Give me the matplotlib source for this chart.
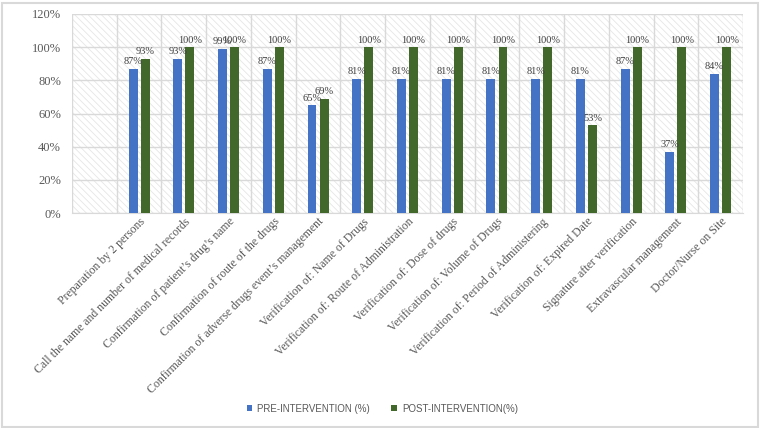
import numpy as np
import matplotlib.pyplot as plt
from matplotlib.patches import Rectangle

# categories (first slot on the axis is left empty in the original)
categories = [
    "Preparation by 2 persons",
    "Call the name and number of medical records",
    "Confirmation of patient\u2019s drug\u2019s name",
    "Confirmation of route of the drugs",
    "Confirmation of adverse drugs event\u2019s management",
    "Verification of: Name of Drugs",
    "Verification of: Route of Administration",
    "Verification of: Dose of drugs",
    "Verification of: Volume of Drugs",
    "Verification of: Period of Administering",
    "Verification of: Expired Date",
    "Signature after verification",
    "Extravascular management",
    "Doctor/Nurse on Site",
]
pre_values = [87, 93, 99, 87, 65, 81, 81, 81, 81, 81, 81, 87, 37, 84]
post_values = [93, 100, 100, 100, 69, 100, 100, 100, 100, 100, 53, 100, 100, 100]
y_ticks = [0, 20, 40, 60, 80, 100, 120]

blue = '#4472C4'
green = '#43682B'
text_gray = '#595959'
grid_gray = '#d9d9d9'

plt.rcParams['hatch.linewidth'] = 0.6

fig = plt.figure(figsize=(7.6, 4.28), dpi=100)
ax = fig.add_axes([72 / 760, 1 - 213 / 428, (743 - 72) / 760, (213 - 14) / 428])

# hatched plot background
bg = Rectangle((0, 0), 1, 1, transform=ax.transAxes, facecolor='white',
               edgecolor='#e6e6e6', hatch='\\\\\\\\\\', linewidth=0, zorder=0)
ax.add_patch(bg)

x = np.arange(1, len(categories) + 1)
w = 0.2
off = 0.135
b1 = ax.bar(x - off, pre_values, w, color=blue, zorder=3, label='PRE-INTERVENTION (%)')
b2 = ax.bar(x + off, post_values, w, color=green, zorder=3, label='POST-INTERVENTION(%)')

for bars, vals in [(b1, pre_values), (b2, post_values)]:
    for rect, v in zip(bars, vals):
        ax.text(rect.get_x() + rect.get_width() / 2, v + 1.5, str(v) + '%',
                ha='center', va='bottom', fontsize=7.5, color='#404040',
                family='Liberation Serif', zorder=4)

ax.set_xlim(-0.5, len(categories) + 0.5)
ax.set_ylim(0, 120)
ax.set_yticks(y_ticks)
ax.set_yticklabels([str(t) + '%' for t in y_ticks], family='Liberation Serif',
                   fontsize=9, color=text_gray)

# vertical grid at slot boundaries
ax.set_xticks(np.arange(-0.5, len(categories) + 1, 1), minor=True)
ax.set_xticks(x)
ax.set_xticklabels(categories, rotation=45, ha='right', rotation_mode='anchor',
                   family='Liberation Serif', fontsize=8.5, color=text_gray)
ax.grid(True, which='minor', axis='x', color=grid_gray, linewidth=1, zorder=1)
ax.grid(True, which='major', axis='y', color=grid_gray, linewidth=1, zorder=1)
ax.tick_params(which='both', length=0)
ax.tick_params(axis='x', pad=2)
ax.tick_params(axis='y', pad=8)
for s in ['top', 'right', 'left']:
    ax.spines[s].set_visible(False)
ax.spines['bottom'].set_color(grid_gray)
ax.set_axisbelow(True)

leg = fig.legend(handles=[b1, b2], loc='lower center', bbox_to_anchor=(0.503, 0.013),
                 ncol=2, frameon=False, handlelength=0.6, handleheight=0.6,
                 columnspacing=2.2, handletextpad=0.5,
                 prop={'family': 'Liberation Sans', 'size': 7})
for t in leg.get_texts():
    t.set_color(text_gray)

# outer chart border
fig.patches.append(Rectangle((0.002, 0.003), 0.995, 0.99, transform=fig.transFigure,
                             fill=False, edgecolor='#d9d9d9', linewidth=1.5))

fig.savefig('out.png', dpi=100)
